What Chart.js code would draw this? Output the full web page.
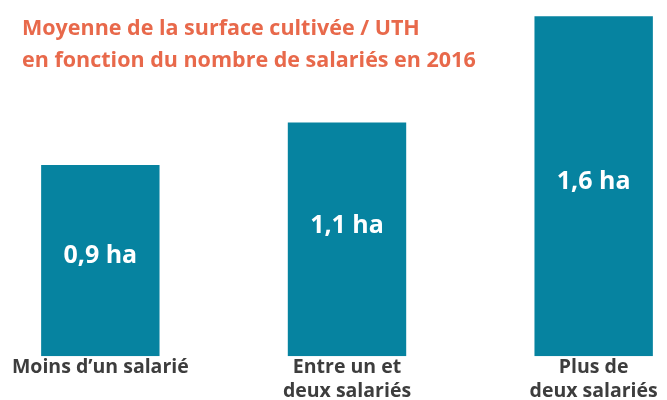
<!DOCTYPE html>
<html>
<head>
<meta charset="utf-8">
<script src="https://cdn.jsdelivr.net/npm/chart.js@4"></script>
<style>
  html, body { margin: 0; padding: 0; background: #fff; overflow: hidden; }
  body { width: 667px; height: 400px; position: relative; }
  #wrap { position: absolute; left: -23px; top: 0; width: 740px; height: 403px; }
</style>
</head>
<body>
<div id="wrap"><canvas id="chart"></canvas></div>
<script>
// Data
const categories = [
    ['Moins d\u2019un salarié'],
    ['Entre un et', 'deux salariés'],
    ['Plus de', 'deux salariés']
];
const surfaces = [0.9, 1.1, 1.6];
const valueLabels = ['0,9 ha', '1,1 ha', '1,6 ha'];
const titleLines = [
    'Moyenne de la surface cultivée / UTH',
    'en fonction du nombre de salariés en 2016'
];

const BAR_COLOR = '#0683a0';
const TITLE_COLOR = '#e8694b';
const LABEL_COLOR = '#3d3d3d';

// value text inside each bar, nudged up from the bar centre
const labelOffsets = [-5, -14, -4];

const insideLabels = {
    id: 'insideLabels',
    afterDatasetsDraw(chart) {
        const ctx = chart.ctx;
        const meta = chart.getDatasetMeta(0);
        ctx.save();
        ctx.fillStyle = '#ffffff';
        ctx.font = 'bold 25px "Open Sans"';
        ctx.textAlign = 'center';
        ctx.textBaseline = 'middle';
        meta.data.forEach(function(bar, i) {
            let mid = (bar.y + bar.base) / 2 + labelOffsets[i];
            ctx.fillText(valueLabels[i], bar.x, mid);
        });
        ctx.restore();
    }
};

// title sits over the plot, left of the tall bar
const overlayTitle = {
    id: 'overlayTitle',
    afterDraw(chart) {
        const ctx = chart.ctx;
        ctx.save();
        ctx.fillStyle = TITLE_COLOR;
        ctx.font = 'bold 21.5px "Open Sans"';
        ctx.textAlign = 'left';
        ctx.textBaseline = 'alphabetic';
        for (let i = 0; i < titleLines.length; i++) {
            ctx.fillText(titleLines[i], 45, 35 + i * 32);
        }
        ctx.restore();
    }
};

new Chart(document.getElementById('chart'), {
    type: 'bar',
    data: {
        labels: categories,
        datasets: [{
            data: surfaces,
            backgroundColor: BAR_COLOR,
            borderWidth: 0,
            barPercentage: 0.96,
            categoryPercentage: 0.5
        }]
    },
    options: {
        responsive: true,
        maintainAspectRatio: false,
        animation: false,
        layout: { padding: { top: 10, left: 0, right: 0, bottom: 0 } },
        scales: {
            x: {
                grid: { display: false, drawTicks: false },
                border: { display: false },
                ticks: {
                    color: LABEL_COLOR,
                    font: { family: '"Open Sans"', size: 19.5, weight: 'bold', lineHeight: 1.2 },
                    padding: 0,
                    maxRotation: 0,
                    autoSkip: false
                }
            },
            y: {
                display: false,
                min: 0,
                max: 1.63
            }
        },
        plugins: {
            legend: { display: false },
            tooltip: { enabled: false }
        }
    },
    plugins: [insideLabels, overlayTitle]
});
</script>
</body>
</html>
